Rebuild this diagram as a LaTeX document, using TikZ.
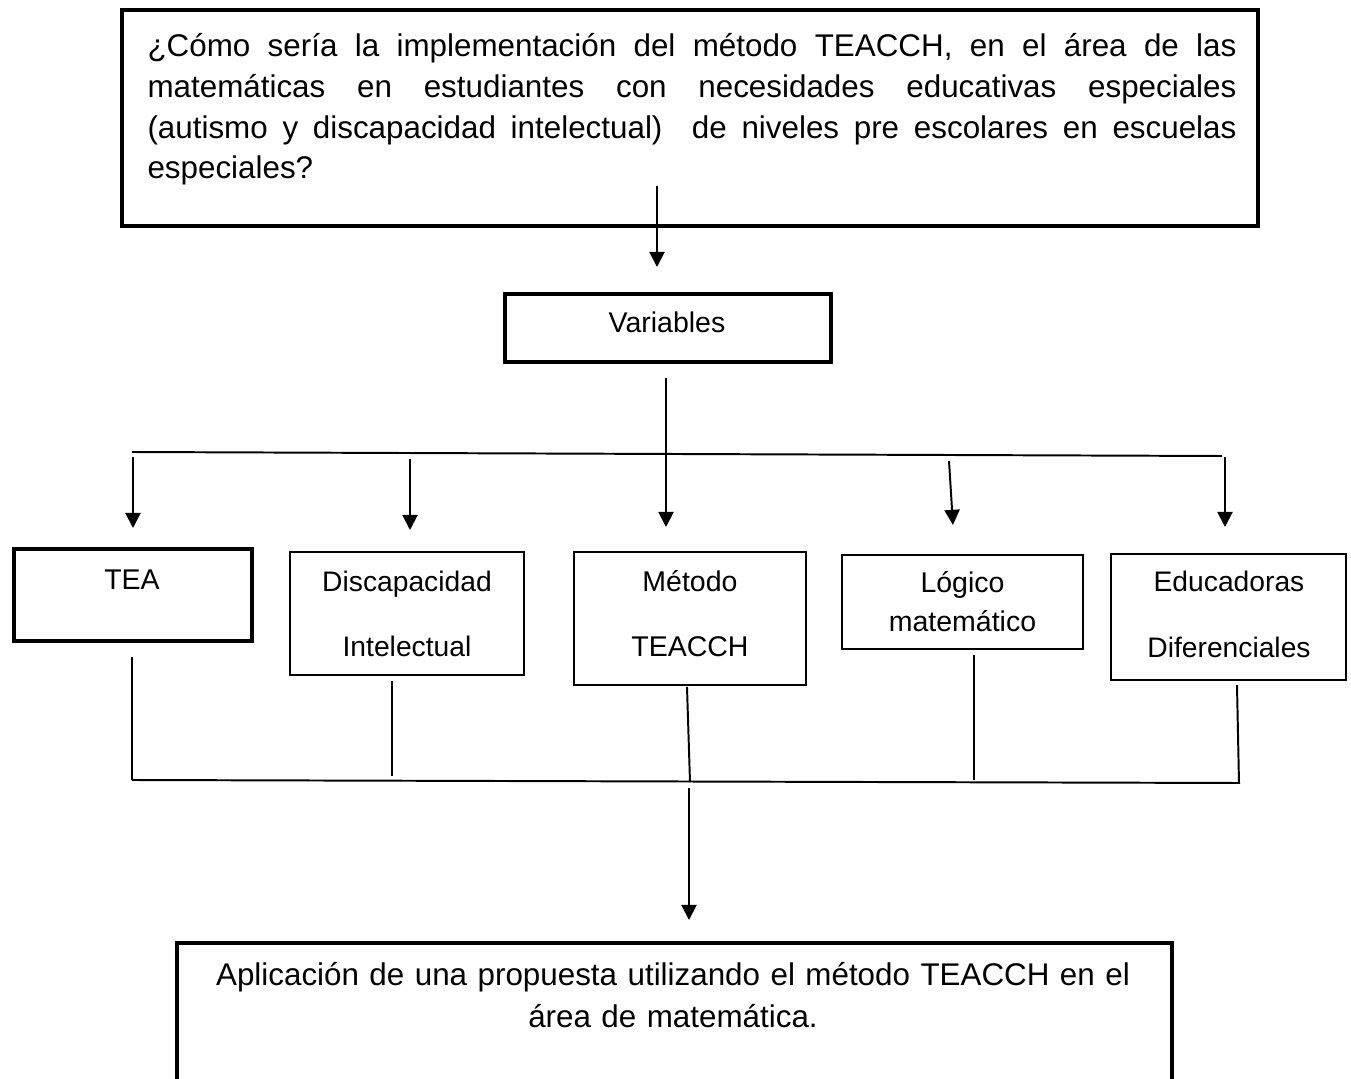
\documentclass[tikz,border=0pt]{standalone}
\usepackage{fontspec}
\setmainfont{Liberation Sans}
\usetikzlibrary{arrows.meta}
\usetikzlibrary{calc}
\newdimen\px
\px=0.01344cm
\tikzset{
  box/.style={draw,rectangle,inner sep=0pt,outer sep=0pt,line width=0.8pt},
  thickbox/.style={box,line width=1.5pt},
  bigbox/.style={box,line width=1.9pt},
  conn/.style={line width=0.75pt},
  arr/.style={line width=0.75pt,-{Triangle[length=5.8pt,width=5.8pt]}},
  boxtext/.style={inner sep=0pt,anchor=base,text width=225\px,align=center},
}

\begin{document}
\begin{tikzpicture}[x=0.01344cm,y=-0.01344cm]
\useasboundingbox (0,0) rectangle (1351,1079);
\clip (0,0) rectangle (1351,1079);

\node[bigbox,minimum width=1136\px,minimum height=216\px] (q) at (690,118) {};
\node[inner sep=0pt,anchor=base west,text width=1089\px,align=justify,font={\fontsize{12pt}{15.5pt}\selectfont\tolerance=10000}] (qtxt) at (147,57)
  {¿Cómo sería la implementación del método TEACCH, en el área de las\linebreak matemáticas en estudiantes con necesidades educativas especiales\linebreak (autismo y discapacidad intelectual)\ \ de niveles pre escolares en escuelas\linebreak especiales?};

\node[thickbox,minimum width=326\px,minimum height=68\px] (var) at (668,328) {};
\node[boxtext,font={\fontsize{10.9pt}{13pt}\selectfont}] (vartxt) at (667,333) {Variables};

\node[thickbox,minimum width=238\px,minimum height=92\px] (tea) at (133,595) {};
\node[boxtext,font={\fontsize{10.9pt}{13pt}\selectfont}] (teatxt) at (132,590) {TEA};

\node[box,minimum width=234\px,minimum height=123\px] (disc) at (407,613.5) {};
\node[boxtext,font={\fontsize{10.8pt}{24.5pt}\selectfont}] (disctxt) at (407,592) {Discapacidad\\Intelectual};

\node[box,minimum width=232\px,minimum height=133\px] (met) at (690,618.5) {};
\node[boxtext,font={\fontsize{10.9pt}{24.5pt}\selectfont}] (mettxt) at (690,592) {Método\\TEACCH};

\node[box,minimum width=241\px,minimum height=94\px] (logm) at (962.5,602) {};
\node[boxtext,font={\fontsize{10.9pt}{14.9pt}\selectfont}] (logmtxt) at (962.5,593) {Lógico\\matemático};

\node[box,minimum width=235\px,minimum height=126\px] (edu) at (1228.5,617) {};
\node[boxtext,font={\fontsize{10.8pt}{25pt}\selectfont}] (edutxt) at (1229,592) {Educadoras\\Diferenciales};

\node[bigbox,minimum width=995\px,minimum height=177\px] (res) at (674.5,1031.5) {};
\node[inner sep=0pt,anchor=base,text width=960\px,align=center,font={\fontsize{12pt}{16.4pt}\selectfont}] (restxt) at (673,985)
  {Aplicación de una propuesta utilizando el método TEACCH en el\\área de matemática.};

\coordinate (busL) at (132,452);
\coordinate (busR) at (1222,456);
\coordinate (botL) at (132,780);
\coordinate (botR) at (1240,783);

\draw[arr] ($(q.south)+(-33,-40)$) -- ($(var.north)+(-11,-27)$);
\draw[arr] ($(var.south)+(-2,16)$) -- ($(met.north)+(-24,-25)$);
\draw[conn] (busL) -- (busR);
\draw[arr] ($(tea.north)+(0,-92)$) -- ($(tea.north)+(0,-21)$);
\draw[arr] ($(disc.north)+(3,-93)$) -- ($(disc.north)+(3,-22)$);
\draw[arr] ($(logm.north)+(-13.5,-94)$) -- ($(logm.north)+(-9.5,-30)$);
\draw[arr] ($(edu.north)+(-3.5,-97)$) -- ($(edu.north)+(-3.5,-27)$);

\draw[conn] ($(tea.south)+(-1,16)$) -- ($(tea.south)+(-1,139)$);
\draw[conn] ($(disc.south)+(-15,6)$) -- ($(disc.south)+(-15,101)$);
\draw[conn] ($(met.south)+(-3,2)$) -- ($(met.south)+(0,97)$);
\draw[conn] ($(logm.south)+(11.5,6)$) -- ($(logm.south)+(11.5,131)$);
\draw[conn] ($(edu.south)+(8.5,5)$) -- ($(edu.south)+(10.5,103)$);
\draw[conn] (botL) -- (botR);
\draw[arr] ($(res.north)+(14.5,-155)$) -- ($(res.north)+(14.5,-23)$);

\end{tikzpicture}
\end{document}
